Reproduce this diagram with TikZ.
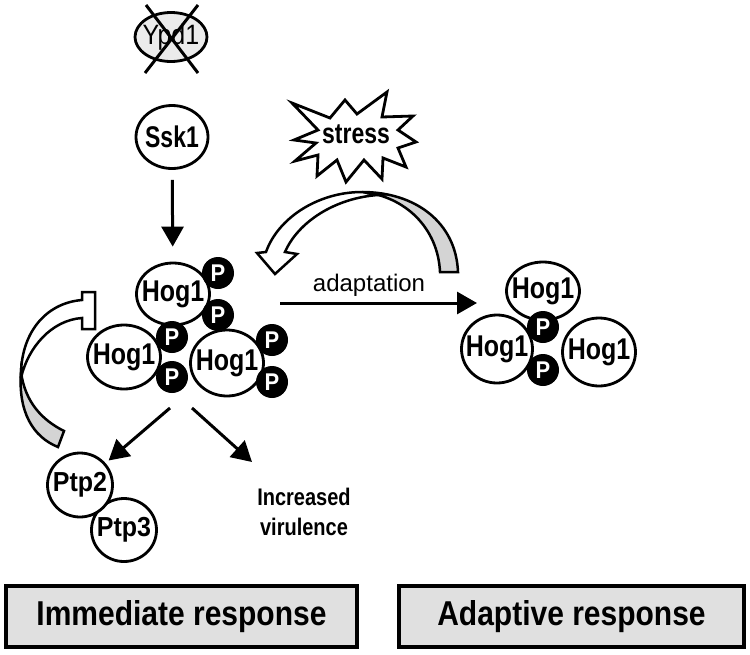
\documentclass[tikz,border=0pt]{standalone}
\usepackage{fontspec}
\setmainfont{Liberation Sans}
\usetikzlibrary{arrows.meta,shapes.geometric}
\newcommand{\sx}[3]{\scalebox{1}[#1]{\fontsize{#2pt}{#2pt}\selectfont #3}}
\newcommand{\zt}[3]{\makebox[0pt][c]{\sx{#1}{#2}{#3}}}
\begin{document}
\begin{tikzpicture}[x=1pt,y=-1pt,
  prot/.style={ellipse, draw, line width=2.8pt, fill=white, inner sep=0pt},
  phos/.style={circle, fill=black, inner sep=0pt, minimum size=32pt, text=white},
  arr/.style={line width=3pt, -{Triangle[length=20pt,width=22pt]}},
  rbox/.style={draw, line width=3.5pt, fill=black!12, inner sep=0pt, minimum height=61pt},
  band/.style={line width=2.5pt, line join=miter},
  hog/.style={prot, minimum width=73pt, minimum height=64pt}
]
\useasboundingbox (0,0) rectangle (750,654);

% Ypd1 crossed
\node[prot, minimum width=72pt, minimum height=49pt, fill=black!8] (ypd) at (171,37) {\zt{1.12}{25}{Ypd1}};
\draw[line width=3pt] (145,73) -- (198,5);
\draw[line width=3pt] (146,5) -- (198,73);

% Ssk1
\node[prot, minimum width=72pt, minimum height=63pt] (ssk) at (172,137) {\zt{1.3}{23}{\bfseries Ssk1}};

% left cluster
\node[hog, minimum height=62pt] (hogT) at (173,294) {\zt{1.2}{25}{\bfseries Hog1}};
\node[hog] (hogL) at (124,357) {\zt{1.2}{25}{\bfseries Hog1}};
\node[hog, minimum height=66pt] (hogR) at (227,363) {\zt{1.2}{25}{\bfseries Hog1}};
\foreach \n/\p in {p1/{218,273}, p2/{218,315}, p3/{172,337}, p4/{172,377}, p5/{272,340}, p6/{272,382}}
  \node[phos] (\n) at (\p) {\zt{1.1}{22}{\bfseries P}};

\draw[arr, shorten <=10pt, shorten >=15pt] (ssk) -- (hogT);

% right cluster
\node[hog, minimum height=58pt] (rT) at (543,291) {\zt{1.2}{25}{\bfseries Hog1}};
\node[hog, minimum width=71pt, minimum height=68pt] (rL) at (497,349) {\zt{1.2}{25}{\bfseries Hog1}};
\node[hog, minimum height=68pt] (rR) at (599,352) {\zt{1.2}{25}{\bfseries Hog1}};
\node[phos] (q1) at (543,327) {\zt{1.1}{22}{\bfseries P}};
\node[phos] (q2) at (543,370) {\zt{1.1}{22}{\bfseries P}};

% adaptation arrow
\coordinate (a1) at (280,303);
\coordinate (a2) at (477,303);
\draw[arr] (a1) -- (a2);
\node (adapt) at (369,285) {\fontsize{24pt}{24pt}\selectfont adaptation};

% stress star
\draw[line width=2.8pt, fill=white, line join=miter]
 (292,103) -- (330,118) -- (345,100) -- (357,114) -- (387,92) -- (382,117)
 -- (413,116) -- (398,130) -- (416,142) -- (398,148) -- (406,167) -- (383,158)
 -- (382,179) -- (364,160) -- (346,182) -- (337,160) -- (317,176) -- (318,155)
 -- (295,161) -- (316,143) -- (294,140) -- (318,130) -- cycle;
\node (stress) at (356,134) {\sx{1.25}{23}{\bfseries stress}};

% curved block arrow (top)
\filldraw[band, fill=black!17] (458,272) .. controls (456,222) and (415,192) .. (362,192)
  .. controls (405,196) and (438,228) .. (440,272) -- cycle;
\filldraw[band, fill=white] (362,192) .. controls (318,192) and (278,218) .. (266,252)
  -- (257,253) -- (275,274) -- (297,254) -- (285,252)
  .. controls (298,222) and (335,198) .. (378,195) -- cycle;

% inhibition band (left)
\filldraw[band, fill=black!17] (21,372) .. controls (18,412) and (33,437) .. (58,447)
  -- (64,431) .. controls (42,420) and (25,402) .. (21,372) -- cycle;
\filldraw[band, fill=white] (21,378) .. controls (20,334) and (45,303) .. (82,300)
  -- (82,292) -- (95,292) -- (95,329) -- (82,329) -- (82,318)
  .. controls (52,320) and (28,347) .. (21,378) -- cycle;

% Ptp
\node[prot, minimum width=65pt, minimum height=63pt] (ptp3) at (124,530) {\zt{1.1}{25}{\bfseries Ptp3}};
\node[prot, minimum width=65pt, minimum height=64pt] (ptp2) at (80,485) {\zt{1.1}{25}{\bfseries Ptp2}};

\coordinate (o1) at (170,408);
\coordinate (o2) at (192,408);
\coordinate (vtip) at (252,462);
\draw[arr, shorten >=4pt] (o1) -- (ptp2);
\draw[arr] (o2) -- (vtip);

\node[anchor=base] (inc) at (304,505) {\sx{1.2}{20}{\bfseries Increased}};
\node[anchor=base] (vir) at (304,535) {\sx{1.2}{20}{\bfseries virulence}};

% response boxes
\node[rbox, minimum width=351pt] (imm) at (181.5,616.5) {\sx{1.15}{30}{\bfseries Immediate response}};
\node[rbox, minimum width=345pt] (adp) at (571.5,616.5) {\sx{1.15}{30}{\bfseries Adaptive response}};
\end{tikzpicture}
\end{document}
